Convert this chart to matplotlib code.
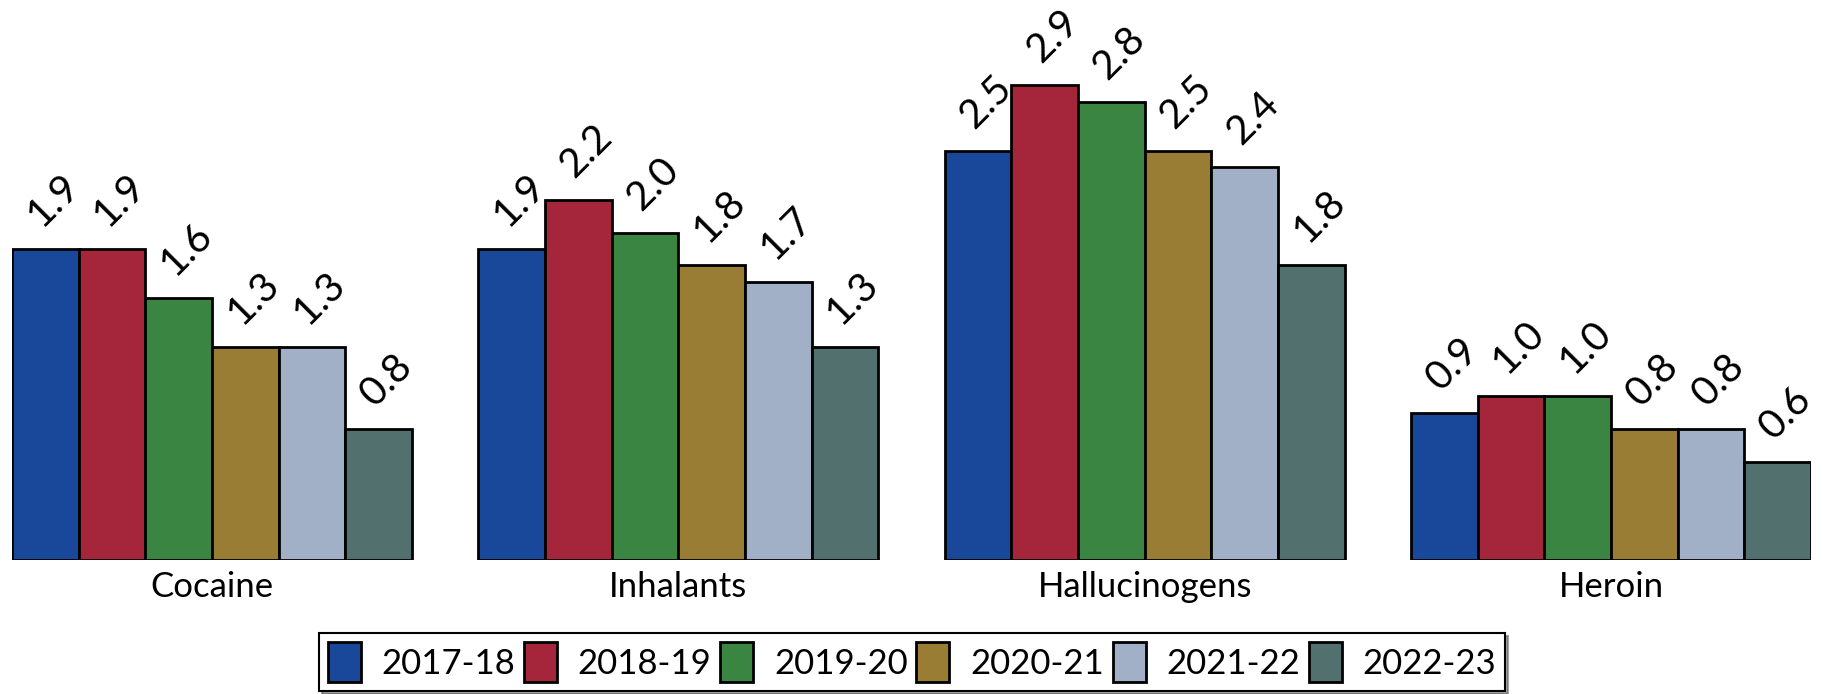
import matplotlib.pyplot as plt
from matplotlib.patches import Patch

# data
drugs = ['Cocaine', 'Inhalants', 'Hallucinogens', 'Heroin']
years = ['2017-18', '2018-19', '2019-20', '2020-21', '2021-22', '2022-23']
vals_2017 = [1.9, 1.9, 2.5, 0.9]
vals_2018 = [1.9, 2.2, 2.9, 1.0]
vals_2019 = [1.6, 2.0, 2.8, 1.0]
vals_2020 = [1.3, 1.8, 2.5, 0.8]
vals_2021 = [1.3, 1.7, 2.4, 0.8]
vals_2022 = [0.8, 1.3, 1.8, 0.6]
colors = ['#19479A', '#A5263A', '#3A8541', '#9A7D35', '#A2B0C7', '#51706E']

series = [vals_2017, vals_2018, vals_2019, vals_2020, vals_2021, vals_2022]

plt.rcParams['font.family'] = ['Lato', 'DejaVu Sans']

fig = plt.figure(figsize=(18.28, 6.94), dpi=100)
ax = fig.add_axes([12 / 1828, 1 - 560 / 694, 1799 / 1828, 560 / 694])

step = len(years) + 1
for j, vals in enumerate(series):
    xs = [i * step + j for i in range(len(drugs))]
    bars = ax.bar(xs, vals, width=1, align='edge', color=colors[j],
                  edgecolor='black', linewidth=2)
    for x, v in zip(xs, vals):
        ax.annotate(f'{v:.1f}', (x + 0.5, v), textcoords='offset pixels',
                    xytext=(1, 16), ha='left', va='bottom', rotation=45,
                    rotation_mode='anchor', fontsize=29, annotation_clip=False)

ax.set_xlim(0, step * (len(drugs) - 1) + len(years))
ax.set_ylim(0, 3.42)
ax.set_xticks([i * step + len(years) / 2 for i in range(len(drugs))])
ax.set_xticklabels(drugs, fontsize=25)
ax.tick_params(axis='x', length=0, pad=8)
ax.set_yticks([])
for s in ax.spines.values():
    s.set_visible(False)

handles = [Patch(facecolor=c, edgecolor='black', linewidth=2) for c in colors]
leg = fig.legend(handles, years, loc='center', bbox_to_anchor=(912 / 1828, 1 - 662 / 694),
                 ncol=6, fontsize=25, frameon=True, fancybox=False, shadow=True,
                 handlelength=0.95, handleheight=1.4, handletextpad=0.6,
                 columnspacing=0.25, borderpad=0.25)
leg.get_frame().set_edgecolor('black')
leg.get_frame().set_linewidth(1.5)

plt.savefig('out.png', dpi=100)
